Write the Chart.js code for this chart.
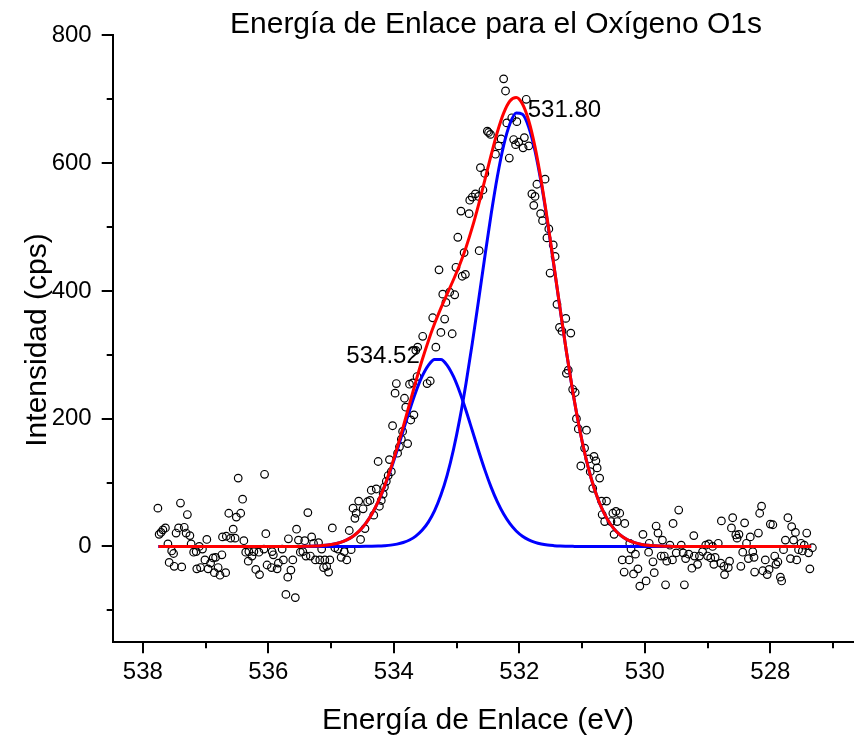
<!DOCTYPE html>
<html>
<head>
<meta charset="utf-8">
<script src="https://cdn.jsdelivr.net/npm/chart.js@4.4.1/dist/chart.umd.min.js"></script>
<style>
  html, body { margin: 0; padding: 0; background: #fff; overflow: hidden; }
  canvas { display: block; }
</style>
</head>
<body>
<canvas id="grafico" width="859" height="738"></canvas>
<script>
// Espectro XPS O1s: energías de enlace (eV) y cuentas medidas (cps)
const energia = [
  537.76,537.74,537.71,537.68,537.64,537.60,537.58,537.54,537.51,537.50,
  537.47,537.43,537.40,537.38,537.34,537.31,537.29,537.25,537.23,537.19,
  537.15,537.14,537.10,537.08,537.05,537.01,536.98,536.96,536.92,536.88,
  536.86,536.84,536.80,536.77,536.74,536.73,536.68,536.67,536.63,536.60,
  536.56,536.53,536.51,536.48,536.44,536.41,536.39,536.36,536.32,536.31,
  536.26,536.23,536.20,536.15,536.14,536.07,536.06,536.04,536.02,535.94,
  535.95,535.92,535.86,535.84,535.78,535.76,535.72,535.69,535.68,535.64,
  535.61,535.57,535.55,535.52,535.49,535.45,535.42,535.40,535.37,535.33,
  535.31,535.28,535.25,535.20,535.18,535.15,535.12,535.10,535.07,535.04,
  535.02,534.98,534.94,534.89,534.84,534.79,534.75,534.71,534.68,534.65,
  534.62,534.60,534.56,534.53,534.49,534.46,534.42,534.38,534.36,534.32,
  534.28,534.25,534.23,534.20,534.17,534.15,534.12,534.09,534.07,534.04,
  534.02,533.98,533.96,533.94,533.91,533.88,533.86,533.83,533.81,533.78,
  533.75,533.73,533.70,533.68,533.65,533.63,533.62,533.54,533.47,533.42,
  533.38,533.33,533.28,533.25,533.22,533.19,533.17,533.11,533.07,533.03,
  533.01,532.98,532.93,532.91,532.88,532.86,532.80,532.79,532.75,532.70,
  532.65,532.64,532.62,532.58,532.55,532.51,532.49,532.46,532.38,532.33,
  532.29,532.25,532.22,532.20,532.16,532.12,532.09,532.06,532.04,532.01,
  531.94,531.92,531.89,531.85,531.80,531.77,531.75,531.72,531.66,531.63,
  531.59,531.56,531.53,531.51,531.46,531.43,531.40,531.36,531.32,531.26,
  531.25,531.22,531.18,531.15,531.11,531.09,531.06,531.02,530.96,530.93,
  530.89,530.87,530.83,530.81,530.78,530.76,530.72,530.69,530.68,530.64,
  530.61,530.54,530.51,530.49,530.46,530.44,530.40,530.36,530.33,530.32,
  530.25,530.24,530.22,530.18,530.15,530.11,530.08,530.03,529.98,529.94,
  529.93,529.87,529.85,529.82,529.79,529.74,529.72,529.69,529.67,529.65,
  529.60,529.56,529.55,529.50,529.46,529.42,529.39,529.37,529.35,529.30,
  529.25,529.22,529.21,529.16,529.13,529.08,529.03,529.00,528.98,528.95,
  528.92,528.90,528.88,528.83,528.79,528.78,528.74,528.73,528.67,528.65,
  528.62,528.60,528.55,528.53,528.50,528.47,528.44,528.41,528.38,528.35,
  528.32,528.28,528.26,528.25,528.19,528.17,528.14,528.12,528.08,528.05,
  528.02,528.00,527.96,527.93,527.91,527.88,527.84,527.82,527.79,527.76,
  527.72,527.68,527.66,527.63,527.60,527.58,527.55,527.51,527.49,527.46,
  527.42,527.39,527.37,527.33
];
const cuentas = [
  60,19,22,26,29,4,-25,-7,-11,-31,
  21,29,68,-32,30,21,50,17,4,-9,
  -8,-35,0,-33,-4,-21,11,-35,-26,-18,
  -41,-17,-33,-45,-13,15,-41,16,52,13,
  27,13,46,107,52,74,9,-9,-23,-8,
  -15,-8,-36,-9,-44,-4,113,20,-29,-8,
  -33,-13,-35,-26,-4,-21,-75,-48,12,-37,
  -21,-80,27,10,-9,-8,9,-15,53,-15,
  15,5,-21,6,-21,-4,-33,-21,-31,-40,
  -21,29,-2,-4,-17,-8,-21,25,-5,60,
  44,52,71,11,59,28,70,72,88,49,
  90,133,63,72,82,93,102,111,136,117,
  189,240,255,146,156,168,180,232,218,161,
  254,198,256,206,307,266,312,329,255,259,
  358,312,433,335,395,356,382,398,333,394,
  437,484,525,423,460,426,521,542,547,552,
  548,463,593,558,584,650,648,645,614,627,
  638,732,713,663,608,671,637,629,665,633,
  624,640,700,627,552,534,548,567,521,510,
  575,483,497,428,472,454,379,343,337,357,
  271,276,334,246,241,200,184,126,154,182,
  137,117,91,141,134,123,107,71,50,39,
  71,39,52,19,55,39,52,-21,-40,36,
  -21,5,-4,-43,-12,-35,-62,19,-54,-9,
  5,-24,-41,32,21,-15,10,-15,-60,-23,
  2,-21,36,-10,57,2,-10,-60,-19,-12,
  -34,17,-15,-28,-15,-8,2,-15,4,-18,
  0,-28,-17,5,-26,40,-31,-44,-33,-23,
  29,45,18,13,19,-31,-9,37,5,-19,
  15,-8,-17,-40,21,52,63,-38,-21,-44,
  -36,35,34,-15,-28,-24,-48,-54,-5,10,
  45,-19,31,10,22,-21,-5,5,-7,2,
  21,-10,-35,-2
];

// Curvas del ajuste: dos componentes y su suma
const energiaAjuste = [
  537.75,535.55,535.45,535.35,535.25,535.15,535.05,534.95,534.85,534.75,
  534.65,534.55,534.45,534.35,534.25,534.15,534.05,533.95,533.85,533.75,
  533.65,533.55,533.45,533.35,533.25,533.15,533.05,532.95,532.85,532.75,
  532.65,532.55,532.45,532.35,532.25,532.15,532.05,531.95,531.85,531.75,
  531.65,531.55,531.45,531.35,531.25,531.15,531.05,530.95,530.85,530.75,
  530.65,530.55,530.45,530.35,530.25,530.15,530.05,529.95,529.85,529.75,
  529.65,529.55,527.35
];
const componente1 = [
  0,0,0.2,0.4,0.7,1.3,2.2,3.8,6.4,10.3,
  16.1,24.3,35.7,50.7,69.7,92.9,119.9,149.9,181.5,212.9,
  241.8,266.1,283.6,292.8,292.8,283.6,266.1,241.8,212.9,181.5,
  149.9,119.9,92.9,69.7,50.7,35.7,24.3,16.1,10.3,6.4,
  3.8,2.2,1.3,0.7,0.4,0.2,0,0,0,0,
  0,0,0,0,0,0,0,0,0,0,
  0,0,0
];
const componente2 = [
  0,0,0,0,0,0,0,0,0,0,
  0,0.1,0.2,0.3,0.6,1.2,2.1,3.7,6.2,10.1,
  16.2,25.3,38.2,56.1,80.4,111.8,151.4,199.3,255.2,317.9,
  384.9,453.6,519.6,579.1,627.7,661.7,678.5,676.6,656.2,619.1,
  568.0,506.8,439.9,371.4,304.9,243.5,189.1,142.8,104.9,75.0,
  52.1,35.2,23.1,14.8,9.2,5.6,3.2,1.8,1.0,0.6,
  0.3,0,0
];
const ajusteTotal = [
  0,0,0.2,0.4,0.7,1.3,2.2,3.8,6.4,10.3,
  16.1,24.4,35.9,51.0,70.3,94.1,122.0,153.6,187.7,223.0,
  258.0,291.4,321.8,348.9,373.2,395.4,417.5,441.1,468.1,499.4,
  534.8,573.5,612.5,648.8,678.4,697.4,702.8,692.7,666.5,625.5,
  571.8,509.0,441.2,372.1,305.3,243.7,189.1,142.8,104.9,75.0,
  52.1,35.2,23.1,14.8,9.2,5.6,3.2,1.8,1.0,0.6,
  0.3,0,0
];

// Máximos de cada componente y sus etiquetas
const picoEnergia = [533.30, 532.01];
const picoAltura = [294, 680];
const picoEtiqueta = ['534.52', '531.80'];

// Marcas de los ejes
const marcasX = [538, 536, 534, 532, 530, 528];
const marcasMenoresX = [537, 535, 533, 531, 529, 527];
const marcasY = [0, 200, 400, 600, 800];
const marcasMenoresY = [-100, 100, 300, 500, 700];

const titulo = 'Energía de Enlace para el Oxígeno O1s';
const tituloX = 'Energía de Enlace (eV)';
const tituloY = 'Intensidad (cps)';

const fuente = "'Liberation Sans', Arial, Helvetica, sans-serif";

const pares = (xs, ys) => xs.map((v, i) => ({ x: v, y: ys[i] }));

const decoracion = {
  id: 'decoracion',
  afterDraw(chart) {
    const { ctx, chartArea: a, scales: { x, y } } = chart;
    ctx.save();
    ctx.strokeStyle = '#000';
    ctx.lineWidth = 2;
    const rayaX = (v, largo) => {
      const px = Math.round(x.getPixelForValue(v));
      ctx.beginPath();
      ctx.moveTo(px, a.bottom);
      ctx.lineTo(px, a.bottom + largo);
      ctx.stroke();
    };
    const rayaY = (v, largo) => {
      const py = Math.round(y.getPixelForValue(v));
      ctx.beginPath();
      ctx.moveTo(a.left, py);
      ctx.lineTo(a.left - largo, py);
      ctx.stroke();
    };
    marcasX.forEach(v => rayaX(v, 11));
    marcasMenoresX.forEach(v => rayaX(v, 6));
    marcasY.forEach(v => rayaY(v, 11));
    marcasMenoresY.forEach(v => rayaY(v, 6));

    ctx.fillStyle = '#000';
    ctx.font = '24px ' + fuente;
    ctx.textBaseline = 'alphabetic';
    // etiqueta del primer componente, a la izquierda de su máximo
    ctx.textAlign = 'right';
    ctx.fillText(picoEtiqueta[0],
      x.getPixelForValue(picoEnergia[0]) - 18,
      y.getPixelForValue(picoAltura[0]) + 4);
    // etiqueta del segundo componente, a la derecha de su máximo
    ctx.textAlign = 'left';
    ctx.fillText(picoEtiqueta[1],
      x.getPixelForValue(picoEnergia[1]) + 9,
      y.getPixelForValue(picoAltura[1]) + 5);

    ctx.font = '30px ' + fuente;
    ctx.textAlign = 'center';
    ctx.fillText(titulo, 496, 33);
    ctx.fillText(tituloX, 478, 729);
    ctx.translate(46, 340);
    ctx.rotate(-Math.PI / 2);
    ctx.fillText(tituloY, 0, 0);
    ctx.restore();
  }
};

new Chart(document.getElementById('grafico'), {
  type: 'scatter',
  data: {
    datasets: [
      {
        label: 'Datos',
        data: pares(energia, cuentas),
        showLine: false,
        pointStyle: 'circle',
        pointRadius: 3.8,
        pointBorderWidth: 1.2,
        pointBorderColor: '#000',
        pointBackgroundColor: 'rgba(0,0,0,0)',
        order: 4
      },
      {
        label: 'Componente 1',
        type: 'line',
        data: pares(energiaAjuste, componente1),
        borderColor: '#0000ff',
        borderWidth: 3,
        pointRadius: 0,
        fill: false,
        cubicInterpolationMode: 'monotone',
        order: 3
      },
      {
        label: 'Componente 2',
        type: 'line',
        data: pares(energiaAjuste, componente2),
        borderColor: '#0000ff',
        borderWidth: 3,
        pointRadius: 0,
        fill: false,
        cubicInterpolationMode: 'monotone',
        order: 2
      },
      {
        label: 'Ajuste',
        type: 'line',
        data: pares(energiaAjuste, ajusteTotal),
        borderColor: '#ff0000',
        borderWidth: 3,
        pointRadius: 0,
        fill: false,
        cubicInterpolationMode: 'monotone',
        order: 1
      }
    ]
  },
  options: {
    responsive: false,
    animation: false,
    layout: { padding: { top: 27.5, right: 0, left: 0, bottom: 0 } },
    plugins: {
      legend: { display: false },
      title: { display: false },
      tooltip: { enabled: false }
    },
    scales: {
      x: {
        type: 'linear',
        reverse: true,
        min: 526.67,
        max: 538.48,
        afterFit(s) { s.height = 95.7; },
        afterBuildTicks(s) {
          s.ticks = marcasX.concat(marcasMenoresX).sort((p, q) => p - q).map(v => ({ value: v }));
        },
        ticks: {
          autoSkip: false,
          maxRotation: 0,
          minRotation: 0,
          padding: 16,
          color: '#000',
          font: { family: fuente, size: 24 },
          callback: v => (marcasX.includes(v) ? String(v) : '')
        },
        grid: { display: false, drawTicks: false },
        border: { display: true, color: '#000', width: 2 }
      },
      y: {
        type: 'linear',
        min: -150,
        max: 800,
        afterFit(s) { s.width = 112.7; },
        afterBuildTicks(s) {
          s.ticks = marcasY.map(v => ({ value: v }));
        },
        ticks: {
          autoSkip: false,
          padding: 21,
          color: '#000',
          font: { family: fuente, size: 24 },
          callback: v => String(v)
        },
        grid: { display: false, drawTicks: false },
        border: { display: true, color: '#000', width: 2 }
      }
    }
  },
  plugins: [decoracion]
});
</script>
</body>
</html>
